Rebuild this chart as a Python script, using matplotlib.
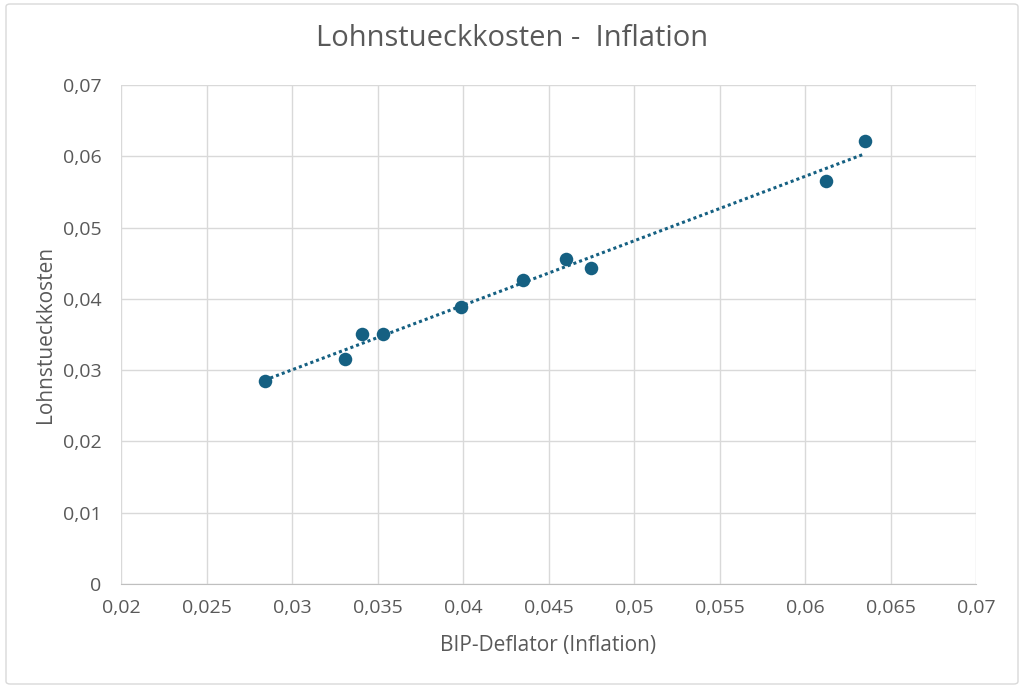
import numpy as np
import matplotlib
matplotlib.use("Agg")
import matplotlib.pyplot as plt
from matplotlib.patches import FancyBboxPatch
from matplotlib.ticker import FuncFormatter, MultipleLocator

# Datenpunkte
bip_deflator = [0.0284, 0.0331, 0.0341, 0.0353, 0.0399, 0.0435, 0.0460, 0.0475, 0.0612, 0.0635]
lohnstueckkosten = [0.0285, 0.0316, 0.0351, 0.0351, 0.0389, 0.0426, 0.0456, 0.0443, 0.0565, 0.0621]

farbe = "#156082"
grau_text = "#595959"

plt.rcParams["font.family"] = ["Open Sans", "DejaVu Sans"]


def komma(wert, pos):
    if abs(wert) < 1e-12:
        return "0"
    return f"{wert:.3f}".rstrip("0").replace(".", ",")


fig = plt.figure(figsize=(10.24, 6.88), dpi=100)
# Rahmen um das Diagramm
rahmen = FancyBboxPatch((6 / 1024, 4 / 688), 1012 / 1024, 680 / 688,
                        boxstyle="round,pad=0,rounding_size=0.004",
                        transform=fig.transFigure, facecolor="none",
                        edgecolor="#D9D9D9", linewidth=1.0, zorder=-1)
fig.patches.append(rahmen)

ax = fig.add_axes([121 / 1024, 1 - 584 / 688, 855 / 1024, 499 / 688])
ax.set_facecolor("none")
ax.set_xlim(0.02, 0.07)
ax.set_ylim(0, 0.07)
ax.xaxis.set_major_locator(MultipleLocator(0.005))
ax.yaxis.set_major_locator(MultipleLocator(0.01))
ax.xaxis.set_major_formatter(FuncFormatter(komma))
ax.yaxis.set_major_formatter(FuncFormatter(komma))
ax.grid(True, color="#D9D9D9", linewidth=1.0)
ax.set_axisbelow(True)
for seite in ["top", "right", "left"]:
    ax.spines[seite].set_visible(False)
ax.spines["bottom"].set_color("#BFBFBF")
ax.tick_params(length=0, labelsize=14, colors=grau_text)
ax.tick_params(axis="x", pad=11)
ax.tick_params(axis="y", pad=14)

# Trendlinie (lineare Regression)
m, b = np.polyfit(bip_deflator, lohnstueckkosten, 1)
xs = np.array([min(bip_deflator), max(bip_deflator)])
ax.plot(xs, m * xs + b, color=farbe, linestyle=(0, (1, 1)), linewidth=2.2, zorder=2)

ax.scatter(bip_deflator, lohnstueckkosten, s=95, color=farbe, zorder=3, linewidths=0)

fig.text(0.5, 1 - 39 / 688, "Lohnstueckkosten -  Inflation", fontsize=21,
         color=grau_text, ha="center", va="center")
ax.set_xlabel("BIP-Deflator (Inflation)", fontsize=15, color=grau_text, labelpad=13)
ax.set_ylabel("Lohnstueckkosten", fontsize=15, color=grau_text, labelpad=5)

fig.savefig("out.png", dpi=100)
